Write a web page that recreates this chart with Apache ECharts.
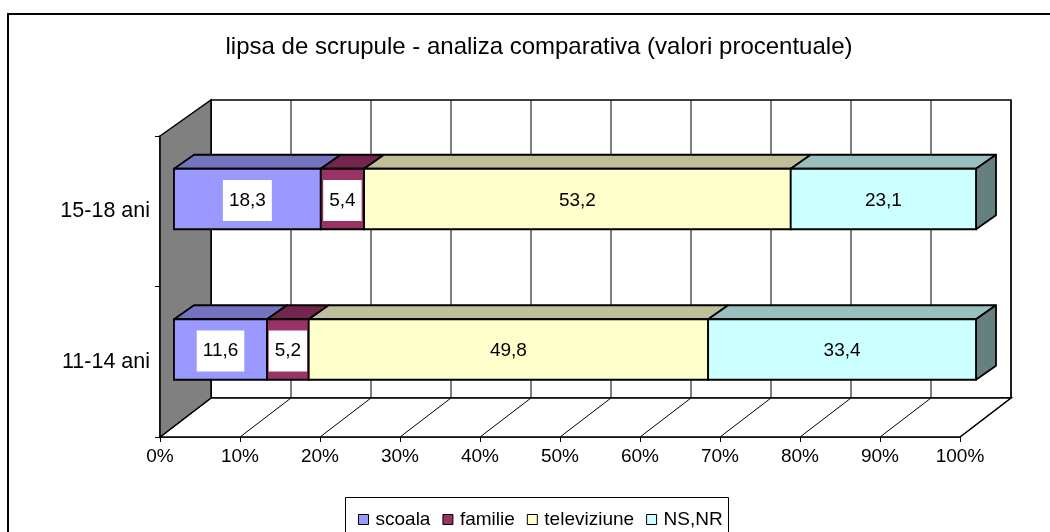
<!DOCTYPE html>
<html><head><meta charset="utf-8">
<script src="https://cdn.jsdelivr.net/npm/echarts@6/dist/echarts.min.js"></script>
<style>html,body{margin:0;padding:0;background:#fff}#c{width:1050px;height:532px}</style>
</head><body><div id="c"></div>
<script>
// ---- data ----
const categories = ['11-14 ani', '15-18 ani'];
const seriesNames = ['scoala', 'familie', 'televiziune', 'NS,NR'];
const scoala = [11.6, 18.3];
const familie = [5.2, 5.4];
const televiziune = [49.8, 53.2];
const nsnr = [33.4, 23.1];
const xTicks = [0, 10, 20, 30, 40, 50, 60, 70, 80, 90, 100];
const titleText = 'lipsa de scrupule - analiza comparativa (valori procentuale)';

// ---- styles ----
const values = [scoala, familie, televiziune, nsnr];
const frontColors = ['#9999FF', '#993366', '#FFFFCC', '#CCFFFF'];
const topColors = ['#7373BF', '#73264D', '#BFBF99', '#99BFBF'];
const sideColors = ['#4D4D80', '#4D1A33', '#808066', '#668080'];
const labelBox = [true, true, false, false];
const FONT = '"Liberation Sans", Arial, sans-serif';

const DX = 51, DYB = -39, DYT = -36;   // wall depth
const BDX = 20, BDY = -14;             // bar depth
const BOFF = 14;                       // bar front offset from front plane

const chart = echarts.init(document.getElementById('c'), null, {renderer: 'canvas'});

function wallRender(params, api) {
  const cs = params.coordSys;
  const x0 = cs.x, x1 = cs.x + cs.width, yT = cs.y, yB = cs.y + cs.height;
  const ch = [];
  ch.push({type: 'rect', shape: {x: x0 + DX, y: yT + DYT, width: x1 - x0, height: (yB + DYB) - (yT + DYT)},
    style: {fill: '#fff', stroke: '#000', lineWidth: 1.5}});
  ch.push({type: 'polygon', shape: {points: [[x0, yB], [x1, yB], [x1 + DX, yB + DYB], [x0 + DX, yB + DYB]]},
    style: {fill: '#fff', stroke: '#000', lineWidth: 1.5}});
  xTicks.forEach(function (v) {
    const px = api.coord([v, 0])[0];
    ch.push({type: 'line', shape: {x1: px + DX, y1: yT + DYT, x2: px + DX, y2: yB + DYB},
      style: {stroke: '#000', lineWidth: 1}});
    ch.push({type: 'line', shape: {x1: px, y1: yB, x2: px + DX, y2: yB + DYB},
      style: {stroke: '#000', lineWidth: 1}});
  });
  ch.push({type: 'polygon', shape: {points: [[x0, yT], [x0 + DX, yT + DYT], [x0 + DX, yB + DYB], [x0, yB]]},
    style: {fill: '#808080', stroke: '#000', lineWidth: 1.5}});
  return {type: 'group', children: ch};
}

function makeBarRender(k) {
  return function (params, api) {
    const ci = api.value(0), s = api.value(1), e = api.value(2);
    const zero = api.coord([0, ci])[0];
    const cs = api.coord([s, ci]), ce = api.coord([e, ci]);
    const xs = zero + BOFF + (cs[0] - zero) * 1.0025;
    const xe = zero + BOFF + (ce[0] - zero) * 1.0025;
    const yc = cs[1];
    const yt = yc - 42.5, yb = yc + 18;
    const lw = 1.8;
    const ch = [];
    ch.push({type: 'polygon', shape: {points: [[xs, yt], [xe, yt], [xe + BDX, yt + BDY], [xs + BDX, yt + BDY]]},
      style: {fill: topColors[k], stroke: '#000', lineWidth: lw, lineJoin: 'round'}});
    if (k === values.length - 1) {
      ch.push({type: 'polygon', shape: {points: [[xe, yt], [xe + BDX, yt + BDY], [xe + BDX, yb + BDY], [xe, yb]]},
        style: {fill: sideColors[k], stroke: '#000', lineWidth: lw, lineJoin: 'round'}});
    }
    ch.push({type: 'rect', shape: {x: xs, y: yt, width: xe - xs, height: yb - yt},
      style: {fill: frontColors[k], stroke: '#000', lineWidth: lw}});
    const txt = String(api.value(3)).replace('.', ',');
    const ts = {text: txt, x: (xs + xe) / 2, y: (yt + yb) / 2 + 1.5, fill: '#000',
      font: '19px ' + FONT, align: 'center', verticalAlign: 'middle'};
    if (labelBox[k]) { ts.backgroundColor = '#fff'; ts.padding = [11, 6, 11, 6]; ts.lineHeight = 19; }
    ch.push({type: 'text', style: ts});
    return {type: 'group', children: ch};
  };
}

const series = [{
  type: 'custom', name: '_wall', z: 1, silent: true,
  renderItem: wallRender, data: [[0, 0]], legendHoverLink: false
}];
values.forEach(function (arr, k) {
  const data = arr.map(function (v, i) {
    let st = 0;
    for (let j = 0; j < k; j++) st += values[j][i];
    return [i, st, st + v, v];
  });
  series.push({
    type: 'custom', name: seriesNames[k], z: 3,
    itemStyle: {color: frontColors[k], borderColor: '#000', borderWidth: 1},
    encode: {x: [1, 2], y: 0},
    renderItem: makeBarRender(k), data: data
  });
});

chart.setOption({
  animation: false,
  backgroundColor: '#fff',
  grid: {left: 160, right: 90, top: 136, bottom: 95},
  xAxis: {
    type: 'value', min: 0, max: 100, interval: 10,
    axisLine: {show: true, lineStyle: {color: '#000', width: 1.5}},
    axisTick: {show: true, length: 5, lineStyle: {color: '#000'}},
    splitLine: {show: false},
    axisLabel: {formatter: '{value}%', color: '#000', fontSize: 19, fontFamily: FONT, margin: 10}
  },
  yAxis: {
    type: 'category', data: categories,
    axisLine: {show: true, lineStyle: {color: '#000', width: 1.5}},
    axisTick: {show: true, length: 5, lineStyle: {color: '#000'}},
    axisLabel: {color: '#000', fontSize: 21.5, fontFamily: FONT, margin: 10}
  },
  legend: {
    data: seriesNames, left: 353, top: 505, icon: 'rect', itemWidth: 10, itemHeight: 10, itemGap: 12,
    textStyle: {color: '#000', fontSize: 19, fontFamily: FONT, padding: [0, 0, 0, 2]},
    itemStyle: {borderColor: '#000', borderWidth: 1}
  },
  graphic: [
    {type: 'rect', z: -10, shape: {x: 8, y: 14, width: 1100, height: 600},
      style: {fill: 'none', stroke: '#000', lineWidth: 2}},
    {type: 'rect', z: -5, shape: {x: 345.5, y: 497.5, width: 383, height: 60},
      style: {fill: '#fff', stroke: '#000', lineWidth: 1}},
    {type: 'text', x: 539, y: 47, style: {text: titleText, font: '24px ' + FONT, fill: '#000',
      align: 'center', verticalAlign: 'middle'}}
  ],
  series: series
});
</script></body></html>
